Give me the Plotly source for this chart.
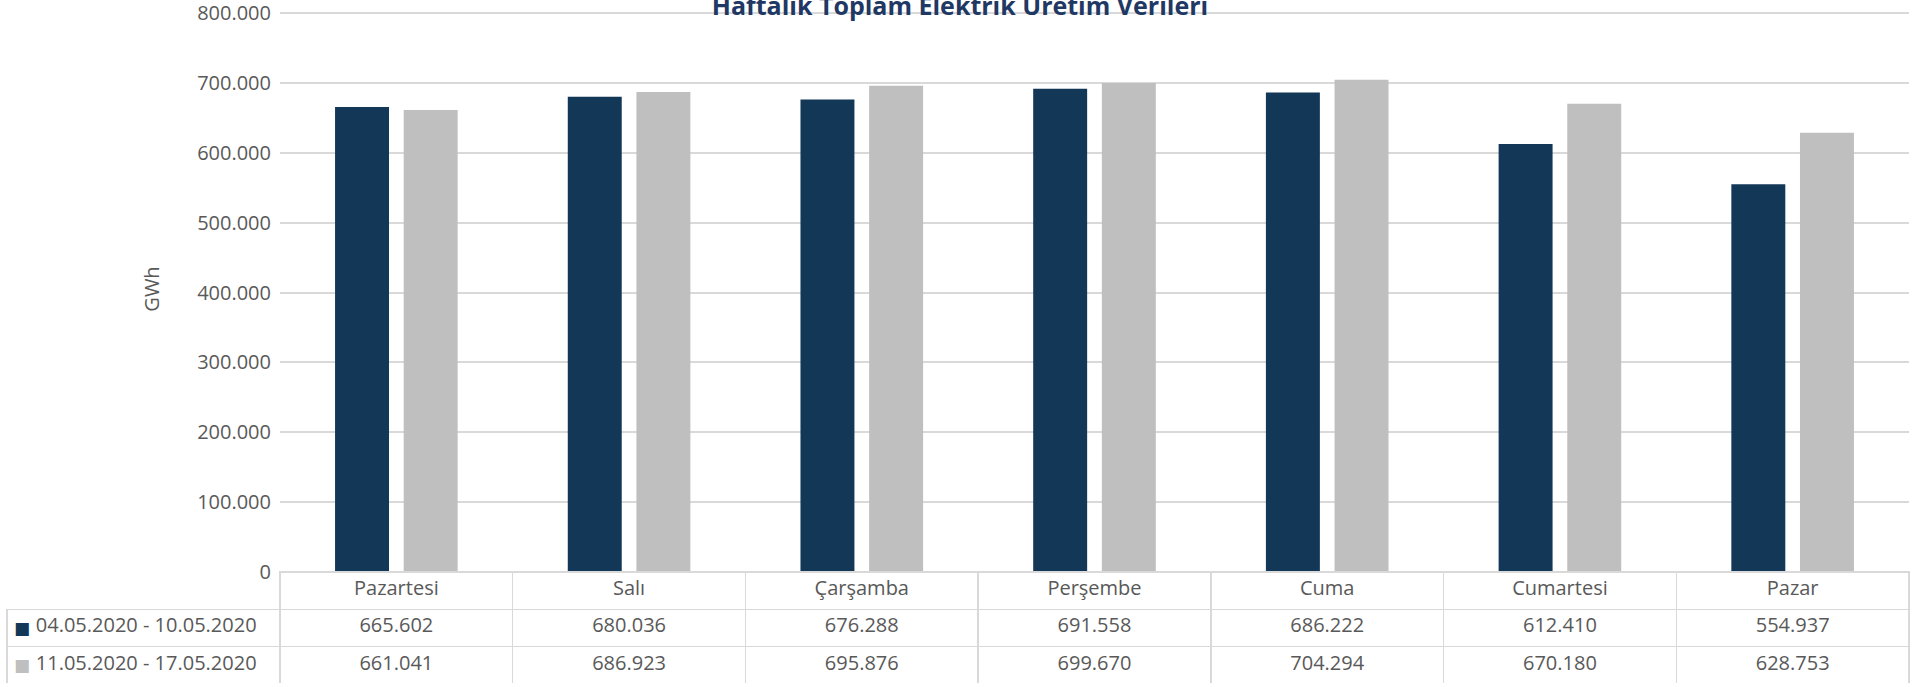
import plotly.graph_objects as go

days = ["Pazartesi", "Salı", "Çarşamba", "Perşembe", "Cuma", "Cumartesi", "Pazar"]
series_names = ["04.05.2020 - 10.05.2020", "11.05.2020 - 17.05.2020"]
series1 = [665602, 680036, 676288, 691558, 686222, 612410, 554937]
series2 = [661041, 686923, 695876, 699670, 704294, 670180, 628753]
title_text = "Haftalık Toplam Elektrik Üretim Verileri"
y_title = "GWh"

c1 = "#133757"
c2 = "#bfbfbf"
colors = [c1, c2]
txt = "#595959"
grid = "#d9d9d9"
W, H = 1924, 687
FONT = "Open Sans"
FS = 20
NB = "\u00a0"

def fmt(v):
    return f"{v:,}".replace(",", ".")

px0, px1 = 280, 1909
py_top, py_bot = 13, 572
tb_left, tb_bot = 7, 684
row_h = (tb_bot - py_bot) / 3
y_max = 800000
y_pad = 10000
y_top_adj = py_top - y_pad * (py_bot - py_top) / y_max

fig = go.Figure()
for name, vals, col in zip(series_names, [series1, series2], colors):
    fig.add_trace(go.Bar(x=days, y=vals, name=name, marker=dict(color=col, line=dict(width=0))))

header_vals = [""] + days
cell_vals = [[NB * 4 + n.replace(" ", NB) for n in series_names]]
for a, b in zip(series1, series2):
    cell_vals.append([fmt(a), fmt(b)])

cat_w = (px1 - px0) / len(days)
fig.add_trace(go.Table(
    domain=dict(x=[tb_left / W, px1 / W], y=[1 - tb_bot / H, 1 - py_bot / H]),
    columnwidth=[px0 - tb_left] + [cat_w] * len(days),
    header=dict(values=header_vals, height=row_h, align="center",
                fill=dict(color=["rgba(0,0,0,0)"] + ["white"] * len(days)),
                line=dict(color=["rgba(0,0,0,0)"] + [grid] * len(days), width=1.5),
                font=dict(family=FONT, size=FS, color=txt)),
    cells=dict(values=cell_vals, height=row_h, align=["left"] + ["center"] * len(days),
               fill=dict(color="white"),
               line=dict(color=grid, width=1.5),
               font=dict(family=FONT, size=FS, color=txt)),
))

# legend keys in the first table column
for i, col in enumerate(colors):
    yc = py_bot + row_h * (i + 1.5)
    fig.add_annotation(xref="paper", yref="paper", x=22 / W, y=1 - yc / H,
                       xanchor="center", yanchor="middle", showarrow=False,
                       text="■", font=dict(family="DejaVu Sans", size=17, color=col))

fig.update_layout(
    width=W, height=H,
    margin=dict(l=0, r=0, t=0, b=0, autoexpand=False),
    paper_bgcolor="white", plot_bgcolor="white",
    separators=",.",
    barmode="group", bargap=0.41, bargroupgap=0.214,
    showlegend=False,
    font=dict(family=FONT, color=txt, size=FS),
    title=dict(text=f"<b>{title_text}</b>", x=960 / W, xanchor="center",
               y=1 - 6 / H, yanchor="middle",
               font=dict(family=FONT, size=25, color="#1f3864")),
    xaxis=dict(domain=[px0 / W, px1 / W], showticklabels=False, showgrid=False,
               showline=False, zeroline=False, ticks="", automargin=False),
    yaxis=dict(domain=[1 - py_bot / H, 1 - y_top_adj / H], range=[0, y_max + y_pad],
               tickvals=list(range(0, y_max + 1, 100000)),
               tickformat=",d", showgrid=True, gridcolor=grid, gridwidth=1.5,
               zeroline=False, showline=False, ticks="", ticklabelstandoff=8,
               ticklabeloverflow="allow",
               automargin=False,
               tickfont=dict(family=FONT, size=FS, color=txt),
               title=dict(text=y_title, standoff=32, font=dict(family=FONT, size=FS, color=txt))),
)

fig.write_html("out.html", config=dict(displayModeBar=False),
               post_script="document.body.style.margin='0';")
